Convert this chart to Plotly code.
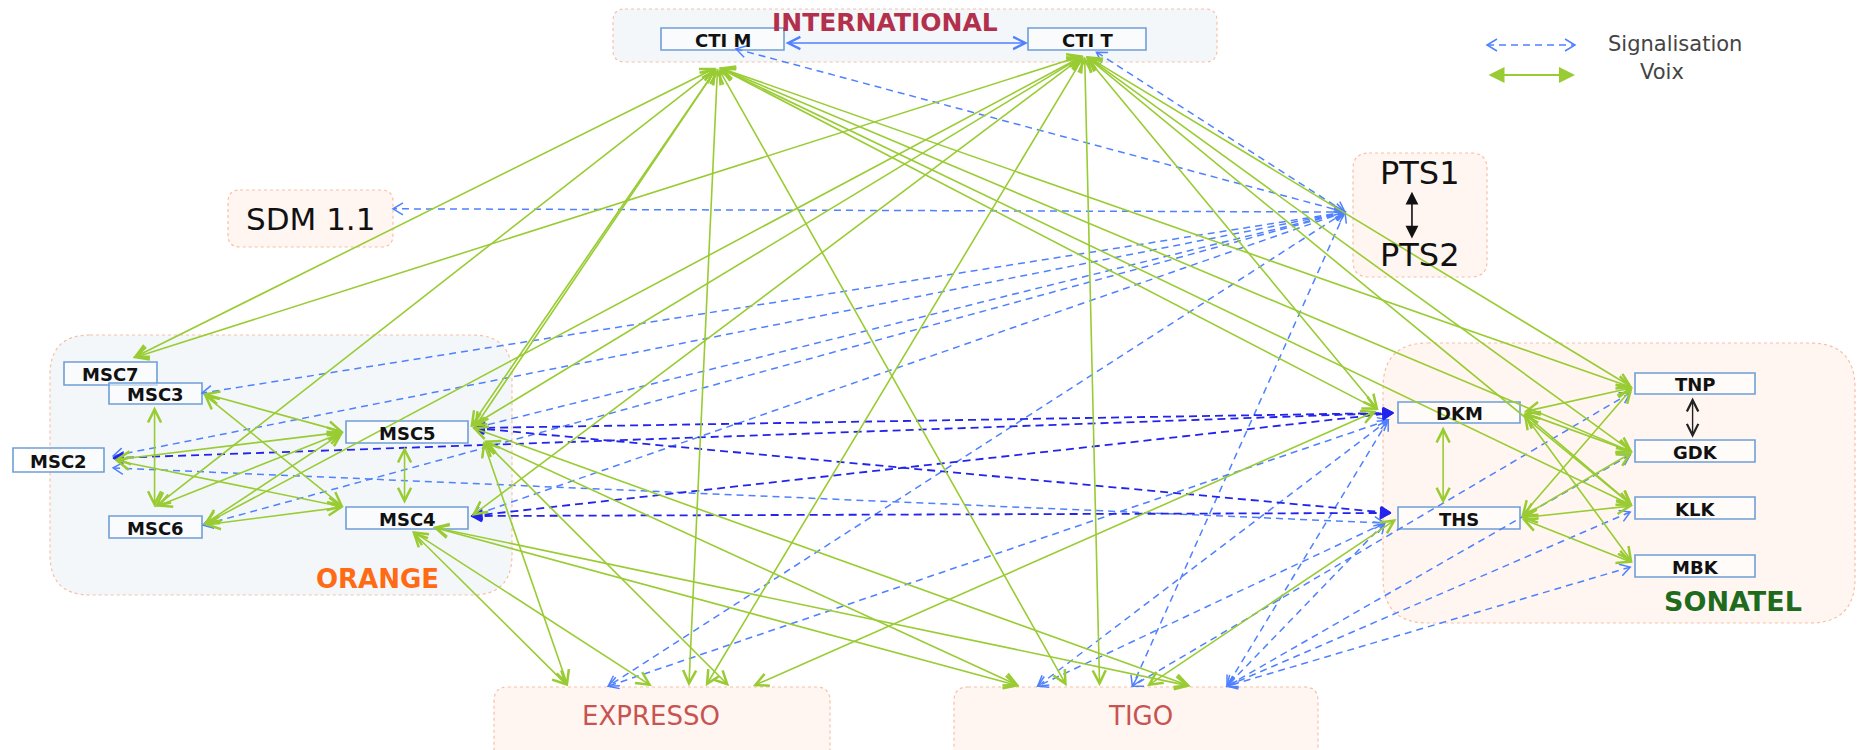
import math
import plotly.graph_objects as go

# ---------------- nodes (equipment boxes), pixel space of the 1857x750 canvas
node_keys = ["CTIM", "CTIT", "MSC7", "MSC3", "MSC2", "MSC6", "MSC5", "MSC4",
             "DKM", "THS", "TNP", "GDK", "KLK", "MBK"]
node_labels = ["CTI M", "CTI T", "MSC7", "MSC3", "MSC2", "MSC6", "MSC5", "MSC4",
               "DKM", "THS", "TNP", "GDK", "KLK", "MBK"]
node_x0 = [661, 1028, 64, 109, 13, 109, 346, 346, 1398, 1398, 1635, 1635, 1635, 1635]
node_y0 = [28, 28, 362, 383, 448, 516, 421, 507, 402, 507, 373, 440, 497, 555]
node_x1 = [784, 1146, 157, 202, 104, 202, 468, 468, 1520, 1520, 1755, 1755, 1755, 1755]
node_y1 = [50, 50, 385, 404, 472, 538, 443, 529, 423, 529, 394, 462, 519, 577]

# ---------------- groups (rounded zones)
group_keys = ["INTL", "ORANGE", "SONATEL", "SDM", "PTS", "EXP", "TIGO"]
group_x0 = [613, 50, 1383, 228, 1353, 494, 954]
group_y0 = [9, 335, 343, 190, 153, 687, 687]
group_x1 = [1217, 512, 1855, 393, 1487, 830, 1318]
group_y1 = [62, 595, 623, 247, 277, 770, 770]
group_radius = [12, 40, 45, 12, 16, 14, 14]
group_fill = ["#f4f7fa", "#f4f7fa", "#fff6f1", "#fff6f1", "#fff6f1", "#fff6f1", "#fff6f1"]

# ---------------- group titles
title_texts = ["<b>INTERNATIONAL</b>", "<b>ORANGE</b>", "<b>SONATEL</b>", "SDM 1.1", "PTS1", "PTS2",
               "EXPRESSO", "TIGO"]
title_x = [885, 377, 1733, 310, 1420, 1420, 651, 1140]
title_y = [22, 579, 601, 219, 173, 255, 716, 716]
title_size = [25, 26, 27, 31, 32, 32, 26, 26]
title_color = ["#b3304c", "#ff6a14", "#1e6b1e", "#111111", "#111111", "#111111", "#c85452", "#c85452"]

# ---------------- connection ports: (box, fraction x, fraction y)
ports = {
    "CTIM.g": ("CTIM", 0.46, 1.77), "CTIM.s": ("CTIM", 0.61, 0.95), "CTIM.r": ("CTIM", 1.0, 0.68),
    "CTIT.g": ("CTIT", 0.48, 1.23), "CTIT.s": ("CTIT", 0.58, 1.1), "CTIT.l": ("CTIT", 0.0, 0.68),
    "PTS.s": ("PTS", -0.06, 0.476), "PTS.t": ("PTS", 0.44, 0.30), "PTS.b": ("PTS", 0.44, 0.69),
    "SDM.r": ("SDM", 1.0, 0.33),
    "MSC7.t": ("MSC7", 0.74, -0.17),
    "MSC3.r": ("MSC3", 1.0, 0.48), "MSC3.b": ("MSC3", 0.49, 1.05),
    "MSC6.t": ("MSC6", 0.49, -0.4), "MSC6.r": ("MSC6", 1.01, 0.41),
    "MSC2.d": ("MSC2", 1.1, 0.42), "MSC2.s": ("MSC2", 1.1, 0.83), "MSC2.g": ("MSC2", 1.1, 0.5),
    "MSC2.p": ("MSC2", 1.1, 0.33),
    "MSC5.l": ("MSC5", -0.02, 0.5), "MSC5.r": ("MSC5", 1.02, 0.27), "MSC5.r2": ("MSC5", 1.12, 0.85),
    "MSC5.b": ("MSC5", 0.48, 1.1), "MSC5.s": ("MSC5", 1.05, 0.32),
    "MSC4.t": ("MSC4", 0.48, -0.15), "MSC4.l": ("MSC4", -0.02, 0.0), "MSC4.r": ("MSC4", 1.03, 0.41),
    "MSC4.b": ("MSC4", 0.53, 1.05), "MSC4.b2": ("MSC4", 0.7, 0.9),
    "DKM.g": ("DKM", -0.16, 0.38), "DKM.s": ("DKM", -0.04, 0.52), "DKM.s2": ("DKM", -0.08, 0.86),
    "DKM.b": ("DKM", 0.37, 1.1), "DKM.r": ("DKM", 1.02, 0.48),
    "THS.t": ("THS", 0.37, -0.15), "THS.l": ("THS", 0.0, 0.5), "THS.s": ("THS", -0.06, 0.27),
    "THS.s2": ("THS", -0.11, 0.73), "THS.r": ("THS", 1.0, 0.5),
    "TNP.l": ("TNP", -0.02, 0.7), "TNP.b": ("TNP", 0.48, 1.1), "TNP.s": ("TNP", -0.04, 0.95),
    "GDK.t": ("GDK", 0.48, -0.1), "GDK.l": ("GDK", -0.02, 0.55), "GDK.s": ("GDK", -0.04, 0.68),
    "KLK.l": ("KLK", -0.02, 0.4), "KLK.s": ("KLK", -0.04, 0.68),
    "MBK.l": ("MBK", -0.02, 0.35), "MBK.s": ("MBK", -0.04, 0.55),
}
exp_fx = [0.22, 0.34, 0.47, 0.58, 0.63, 0.70, 0.77]
tigo_fx = [0.18, 0.23, 0.31, 0.40, 0.49, 0.53, 0.65, 0.75]
for i, f in enumerate(exp_fx):
    ports["EXP.%d" % (i + 1)] = ("EXP", f, -0.01)
for i, f in enumerate(tigo_fx):
    ports["TIGO.%d" % (i + 1)] = ("TIGO", f, -0.01)

# ---------------- links
voice_edges = [
    ("CTIM.g", "MSC7.t"), ("CTIT.g", "MSC7.t"), ("CTIM.g", "MSC6.t"), ("CTIT.g", "MSC6.r"),
    ("CTIM.g", "MSC5.r"), ("CTIM.g", "MSC5.s"), ("CTIT.g", "MSC5.r"), ("CTIT.g", "MSC4.r"),
    ("CTIM.g", "EXP.4"), ("CTIT.g", "EXP.5"), ("CTIM.g", "TIGO.3"), ("CTIT.g", "TIGO.4"),
    ("CTIM.g", "DKM.g"), ("CTIT.g", "DKM.g"), ("CTIM.g", "TNP.l"), ("CTIM.g", "GDK.l"),
    ("CTIM.g", "KLK.l"), ("CTIT.g", "TNP.l"), ("CTIT.g", "GDK.l"), ("CTIT.g", "KLK.l"),
    ("MSC3.b", "MSC6.t"), ("MSC3.r", "MSC5.l"), ("MSC3.r", "MSC4.l"), ("MSC2.g", "MSC5.l"),
    ("MSC2.g", "MSC4.l"), ("MSC6.t", "MSC5.l"), ("MSC6.r", "MSC5.l"), ("MSC6.r", "MSC4.l"),
    ("MSC5.b", "MSC4.t"),
    ("MSC5.r2", "EXP.1"), ("MSC4.b", "EXP.1"), ("MSC4.b", "EXP.3"), ("MSC5.r2", "EXP.6"),
    ("DKM.g", "EXP.7"),
    ("MSC5.r2", "TIGO.1"), ("MSC5.r", "TIGO.7"), ("MSC4.b2", "TIGO.1"), ("MSC4.b2", "TIGO.7"),
    ("THS.l", "TIGO.6"),
    ("DKM.b", "THS.t"), ("DKM.r", "TNP.l"), ("DKM.r", "GDK.l"), ("DKM.r", "KLK.l"), ("DKM.r", "MBK.l"),
    ("THS.r", "TNP.l"), ("THS.r", "GDK.l"), ("THS.r", "KLK.l"), ("THS.r", "MBK.l"),
]
signal_edges = [
    ("PTS.s", "SDM.r"), ("PTS.s", "CTIM.s"), ("PTS.s", "CTIT.s"), ("PTS.s", "MSC3.r"),
    ("PTS.s", "MSC2.p"), ("PTS.s", "MSC6.r"), ("PTS.s", "MSC5.s"), ("PTS.s", "MSC4.r"),
    ("PTS.s", "EXP.2"), ("PTS.s", "TIGO.5"),
    ("MSC2.s", "THS.s2"), ("DKM.s2", "EXP.2"), ("DKM.s2", "TIGO.2"), ("THS.s2", "TIGO.2"),
    ("DKM.s2", "TIGO.8"), ("THS.s2", "TIGO.8"), ("TNP.s", "TIGO.5"), ("GDK.s", "TIGO.8"),
    ("KLK.s", "TIGO.8"), ("MBK.s", "TIGO.8"),
]
signal_dark_edges = [
    ("MSC2.d", "DKM.s"), ("MSC5.s", "DKM.s"), ("MSC5.s", "THS.s"), ("MSC4.r", "DKM.s"), ("MSC4.r", "THS.s"),
]
legend_labels = ["Signalisation", "Voix"]
legend_x = [1487, 1575]
legend_y = [45, 75]

GREEN = "#99cc33"
LBLUE = "#4f80ff"
DBLUE = "#2323ee"
BORDER = "#6f9fd6"

boxes = {}
for k, a, b, c, d in zip(node_keys, node_x0, node_y0, node_x1, node_y1):
    boxes[k] = (a, b, c, d)
for k, a, b, c, d in zip(group_keys, group_x0, group_y0, group_x1, group_y1):
    boxes[k] = (a, b, c, d)


def pt(name):
    ref, fx, fy = ports[name]
    a, b, c, d = boxes[ref]
    return a + fx * (c - a), b + fy * (d - b)


def rounded(x0, y0, x1, y1, r):
    return (f"M{x0+r},{y0} L{x1-r},{y0} Q{x1},{y0} {x1},{y0+r} L{x1},{y1-r} Q{x1},{y1} {x1-r},{y1} "
            f"L{x0+r},{y1} Q{x0},{y1} {x0},{y1-r} L{x0},{y0+r} Q{x0},{y0} {x0+r},{y0} Z")


fig = go.Figure()
shapes = []
for k, a, b, c, d, r, f in zip(group_keys, group_x0, group_y0, group_x1, group_y1, group_radius, group_fill):
    shapes.append(dict(type="path", path=rounded(a, b, c, d, r), xref="x", yref="y", layer="below",
                       fillcolor=f, line=dict(color="#f8bfa5", width=1.2, dash="dot")))
for k, a, b, c, d in zip(node_keys, node_x0, node_y0, node_x1, node_y1):
    shapes.append(dict(type="rect", x0=a, y0=b, x1=c, y1=d, xref="x", yref="y", layer="below",
                       fillcolor="rgba(255,255,255,0.55)", line=dict(color=BORDER, width=1.6)))

annotations = []


def arrow(head, tail, color, width, style, size, side="end"):
    annotations.append(dict(x=head[0], y=head[1], ax=tail[0], ay=tail[1], xref="x", yref="y",
                            axref="x", ayref="y", text="", showarrow=True, arrowhead=style,
                            startarrowhead=style, arrowside=side, arrowsize=size, startarrowsize=size,
                            arrowwidth=width, arrowcolor=color, standoff=0, startstandoff=0))


def wings(p, q, L, W):
    dx, dy = q[0] - p[0], q[1] - p[1]
    n = math.hypot(dx, dy)
    ux, uy = dx / n, dy / n
    nx, ny = -uy, ux
    return ((p[0] + L * ux + W * nx, p[1] + L * uy + W * ny), p,
            (p[0] + L * ux - W * nx, p[1] + L * uy - W * ny))


# voice links: solid double arrows
for s, t in voice_edges:
    arrow(pt(t), pt(s), GREEN, 1.6, 5, 1.6, "end+start")


def dashed(pairs, color, width, dash, filled):
    xs, ys, hx, hy = [], [], [], []
    for p, q in pairs:
        xs += [p[0], q[0], None]
        ys += [p[1], q[1], None]
        for a, b in ((p, q), (q, p)):
            w1, tip, w2 = wings(a, b, 10, 5.5 if filled else 6)
            if filled:
                hx += [w1[0], tip[0], w2[0], w1[0], None]
                hy += [w1[1], tip[1], w2[1], w1[1], None]
            else:
                hx += [w1[0], tip[0], w2[0], None]
                hy += [w1[1], tip[1], w2[1], None]
    fig.add_trace(go.Scatter(x=xs, y=ys, mode="lines", hoverinfo="skip", showlegend=False,
                             line=dict(color=color, width=width, dash=dash)))
    fig.add_trace(go.Scatter(x=hx, y=hy, mode="lines", hoverinfo="skip", showlegend=False,
                             fill="toself" if filled else None, fillcolor=color,
                             line=dict(color=color, width=1.5)))


dashed([(pt(s), pt(t)) for s, t in signal_edges]
       + [((legend_x[0], legend_y[0]), (legend_x[1], legend_y[0]))], LBLUE, 1.5, "7px,5px", False)
dashed([(pt(s), pt(t)) for s, t in signal_dark_edges], DBLUE, 1.8, "8px,5px", True)

# CTI M <-> CTI T
arrow(pt("CTIT.l"), pt("CTIM.r"), LBLUE, 1.5, 5, 1.6, "end+start")
# PTS1 <-> PTS2, TNP <-> GDK
arrow(pt("PTS.b"), pt("PTS.t"), "#111111", 1.6, 2, 1.6, "end+start")
arrow(pt("GDK.t"), pt("TNP.b"), "#222222", 1.4, 5, 1.6, "end+start")

# legend
arrow((legend_x[1], legend_y[1]), (legend_x[0], legend_y[1]), GREEN, 2, 2, 1.6, "end+start")
annotations.append(dict(x=1606, y=44, xref="x", yref="y", text=legend_labels[0], showarrow=False,
                        xanchor="left", font=dict(family="DejaVu Sans", size=21, color="#444444")))
annotations.append(dict(x=1638, y=72, xref="x", yref="y", text=legend_labels[1], showarrow=False,
                        xanchor="left", font=dict(family="DejaVu Sans", size=21, color="#444444")))

# node labels
for k, lab, a, b, c, d in zip(node_keys, node_labels, node_x0, node_y0, node_x1, node_y1):
    annotations.append(dict(x=(a + c) / 2, y=(b + d) / 2 + 1, xref="x", yref="y", text="<b>%s</b>" % lab,
                            showarrow=False, font=dict(family="DejaVu Sans", size=18, color="#111111")))
# group titles
for t, x, y, s, col in zip(title_texts, title_x, title_y, title_size, title_color):
    annotations.append(dict(x=x, y=y, xref="x", yref="y", text=t, showarrow=False,
                            font=dict(family="DejaVu Sans", size=s, color=col)))

fig.update_layout(
    width=1857, height=750, margin=dict(l=0, r=0, t=0, b=0),
    paper_bgcolor="white", plot_bgcolor="white", showlegend=False,
    xaxis=dict(range=[0, 1857], visible=False, fixedrange=True),
    yaxis=dict(range=[750, 0], visible=False, fixedrange=True),
    shapes=shapes, annotations=annotations,
)
fig.write_html("out.html", config={"displayModeBar": False},
               post_script="document.body.style.margin='0';document.body.style.overflow='hidden';")
